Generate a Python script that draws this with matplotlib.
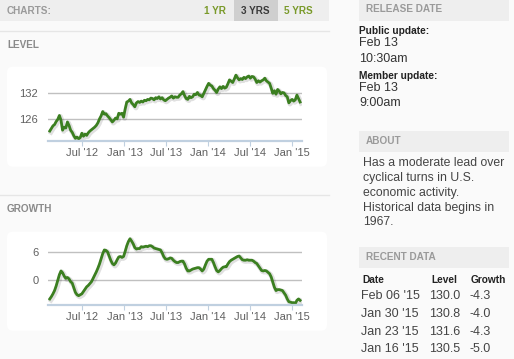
import matplotlib
matplotlib.use("Agg")
import matplotlib.pyplot as plt
import matplotlib.patheffects as pe
from matplotlib.patches import Rectangle, FancyBboxPatch
import pandas as pd

# weekly values, Feb 10 2012 .. Feb 06 2015
first_week = "2012-02-10"
level = [123.3, 123.9, 124.5, 124.8, 125.5, 126.0, 126.9,
         125.8, 123.5, 124.2, 124.0,
         125.4, 124.6, 123.5,
         123.0, 122.2, 121.6, 121.9, 121.5, 121.8,
         122.8, 122.1, 122.6, 122.3, 122.9, 123.3, 123.6,
         123.9, 124.2, 124.6, 125.2, 126.1, 126.8, 127.8,
         127.2, 127.3, 126.8, 126.4, 125.9,
         125.4, 125.8, 126.3, 126.1, 127.4, 127.2, 127.4,
         126.5, 128.4,
         130.0, 130.2, 130.6, 129.8, 129.4,
         128.9, 129.8, 130.1, 129.9, 130.2, 130.0, 130.4,
         130.3, 130.6, 130.5, 130.9, 130.8, 130.5, 131.0, 130.8,
         131.2, 130.7, 131.0, 130.5, 130.3, 130.6, 130.9, 131.1,
         131.4, 130.9, 131.2, 131.1, 131.1, 131.6, 131.9,
         132.4, 131.5, 130.8, 130.6, 131.3, 131.0,
         131.2, 131.8, 131.7, 132.2, 131.6, 131.5, 131.2,
         132.0, 132.8, 133.6, 134.3, 133.9, 133.7,
         133.1, 132.7, 132.2, 133.0, 133.5, 133.1,
         133.6, 133.2, 133.4, 134.2, 135.1, 134.8,
         134.5, 135.3, 136.2, 135.6, 135.1, 135.4,
         135.2, 135.7, 135.4, 135.8, 136.0, 135.5, 135.9,
         135.8, 135.3, 134.5, 134.9, 134.6, 134.9, 135.1,
         135.5, 134.9, 134.6, 134.3, 133.2, 132.0,
         132.6, 131.8, 132.9, 132.5, 131.9, 132.2, 132.1,
         131.5, 131.2, 129.8, 130.3, 130.6, 130.2,
         130.5, 131.6, 130.8, 130.0]
growth = [-4.0, -3.5, -2.9, -2.2, -1.2, 0.0, 1.2, 2.0, 1.6, 0.9,
          0.4, 0.6, 0.3, -0.3, -0.6, -1.6, -2.6, -3.1, -3.3, -3.1,
          -2.9, -2.4, -1.9, -1.4, -1.1, -0.7, -0.3, 0.4, 1.1, 1.8,
          2.6, 3.5, 4.6, 5.7, 6.5, 6.4, 6.1, 5.2, 4.3, 3.6,
          3.3, 3.7, 4.4, 5.0, 5.1, 4.9, 5.1, 6.2, 7.4, 8.3,
          8.9, 8.4, 7.8, 7.0, 6.7, 6.8, 6.8, 7.2, 7.1, 7.2,
          7.3, 7.2, 7.4, 7.4, 7.2, 6.9, 6.8, 6.7, 6.6, 6.5,
          5.9, 5.1, 4.6, 4.5, 4.6, 4.8, 4.7, 4.3, 4.0, 3.8,
          3.8, 4.0, 4.1, 4.1, 3.5, 2.6, 2.0, 2.0, 2.2, 2.4,
          2.5, 2.6, 2.7, 2.7, 2.4, 2.0, 2.4, 3.3, 4.1, 4.5,
          4.5, 4.5, 3.8, 2.9, 2.1, 1.8, 2.1, 2.5, 2.8, 2.9,
          2.9, 3.5, 4.0, 4.3, 4.5, 4.7, 4.9, 5.1, 5.2, 4.8,
          4.4, 4.3, 4.3, 4.4, 4.3, 4.3, 4.3, 4.1, 3.8, 3.6,
          3.1, 2.6, 2.1, 2.0, 2.1, 2.0, 1.7, 1.4, 0.7, -0.4,
          -1.5, -2.2, -2.0, -2.0, -2.1, -2.2, -2.7, -3.2, -4.0, -4.6,
          -4.7, -4.8, -4.8, -5.0, -4.3, -4.0, -4.3]

tick_dates = ["2012-07-01", "2013-01-01", "2013-07-01", "2014-01-01", "2014-07-01", "2015-01-01"]
tick_labels = ["Jul '12", "Jan '13", "Jul '13", "Jan '14", "Jul '14", "Jan '15"]
level_ticks = [126, 132]
growth_ticks = [0, 6]

recent_dates = ["Feb 06 '15", "Jan 30 '15", "Jan 23 '15", "Jan 16 '15"]
recent_level = ["130.0", "130.8", "131.6", "130.5"]
recent_growth = ["-4.3", "-4.0", "-4.3", "-5.0"]

about_lines = ["Has a moderate lead over", "cyclical turns in U.S.", "economic activity.",
               "Historical data begins in", "1967."]

plt.rcParams["font.family"] = ["Liberation Sans", "DejaVu Sans"]

W, H = 514, 359
GREEN = "#3b7f20"
fig = plt.figure(figsize=(W / 100, H / 100), dpi=100)
fig.patch.set_facecolor("#fafafa")

# page layer, drawn in pixel coordinates
bg = fig.add_axes([0, 0, 1, 1])
bg.set_xlim(0, W)
bg.set_ylim(H, 0)
bg.axis("off")


def box(x0, y0, x1, y1, color):
    bg.add_patch(Rectangle((x0, y0), x1 - x0, y1 - y0, color=color, lw=0))


def txt(x, y, s, size, color="#333333", weight="normal", ha="left"):
    bg.text(x, y, s, fontsize=size, color=color, fontweight=weight, ha=ha, va="center")


# left column: tab bar and section titles
box(0, 0, 329, 20.7, "#eeeeee")
box(234, 0, 277.7, 20.7, "#cfcfcf")
txt(7, 10.5, "CHARTS:", 7.2, "#9a9a9a", "bold")
txt(204, 10.5, "1 YR", 7.2, "#7a9a2a", "bold")
txt(241, 10.5, "3 YRS", 7.2, "#3a3a3a", "bold")
txt(284, 10.5, "5 YRS", 7.2, "#7a9a2a", "bold")
bg.plot([0, 329], [31, 31], color="#e6e6e6", lw=1)
txt(7, 45, "LEVEL", 7.2, "#8a8a8a", "bold")
bg.plot([0, 329], [195, 195], color="#e6e6e6", lw=1)
txt(7, 209, "GROWTH", 7.2, "#8a8a8a", "bold")

for top, bottom in [(66.7, 166.7), (231.7, 330.7)]:
    bg.add_patch(FancyBboxPatch((7, top), 320, bottom - top,
                                boxstyle="round,pad=0,rounding_size=6",
                                fc="white", ec="none"))

# right column
box(359, 0, 509, 21, "#eeeeee")
txt(366, 9.5, "RELEASE DATE", 7.2, "#9a9a9a", "bold")
txt(359, 31, "Public update:", 7.3, "#222222", "bold")
txt(359, 43.5, "Feb 13", 9, "#333333")
txt(359, 58.5, "10:30am", 9, "#333333")
txt(359, 76, "Member update:", 7.3, "#222222", "bold")
txt(359, 88, "Feb 13", 9, "#333333")
txt(359, 102.5, "9:00am", 9, "#333333")

box(359, 131, 509, 152, "#eeeeee")
txt(366, 140.5, "ABOUT", 7.2, "#9a9a9a", "bold")
for i, line in enumerate(about_lines):
    txt(363, 163.5 + i * 14.7, line, 8.8, "#444444")

box(359, 247, 509, 268, "#eeeeee")
txt(366, 257, "RECENT DATA", 7.2, "#9a9a9a", "bold")
txt(362, 280, "Date", 7.3, "#222222", "bold")
txt(431, 280, "Level", 7.3, "#222222", "bold")
txt(471, 280, "Growth", 7.3, "#222222", "bold")
for i in range(len(recent_dates)):
    y = 296 + i * 17.8
    txt(361, y, recent_dates[i], 9, "#444444")
    txt(429, y, recent_level[i], 9, "#444444")
    txt(469, y, recent_growth[i], 9, "#444444")

# the two line charts
dates = pd.date_range(first_week, periods=len(level), freq="7D")


def chart(px_top, px_bottom, values, ylim, yticks):
    x0, x1 = 47.7, 301.7
    ax = fig.add_axes([x0 / W, 1 - px_bottom / H, (x1 - x0) / W, (px_bottom - px_top) / H])
    ax.patch.set_alpha(0)
    ax.plot(dates, values, color=GREEN, lw=2.0, solid_joinstyle="round",
            path_effects=[pe.SimpleLineShadow(offset=(0.8, -0.8), shadow_color="black",
                                              alpha=0.12, linewidth=3.6),
                          pe.Normal()])
    ax.set_xlim(pd.Timestamp("2012-02-01"), pd.Timestamp("2015-02-13"))
    ax.set_ylim(*ylim)
    ax.set_yticks(yticks)
    ax.grid(axis="y", color="#c0c0c0", lw=1)
    ax.set_axisbelow(True)
    for s in ["top", "right", "left"]:
        ax.spines[s].set_visible(False)
    ax.spines["bottom"].set_color("#c0d0e0")
    ax.spines["bottom"].set_linewidth(1.6)
    ax.set_xticks(pd.to_datetime(tick_dates))
    ax.set_xticklabels(tick_labels)
    ax.tick_params(axis="x", length=3.6, width=0.8, color="#c0d0e0",
                   labelsize=8, labelcolor="#606060", pad=1.5)
    ax.tick_params(axis="y", length=0, labelsize=8, labelcolor="#606060", pad=6.8)
    return ax


chart(71, 141, level, (121.0, 137.16), level_ticks)
chart(236, 305.3, growth, (-5.36, 9.49), growth_ticks)

fig.savefig("out.png", dpi=100, facecolor=fig.get_facecolor())
